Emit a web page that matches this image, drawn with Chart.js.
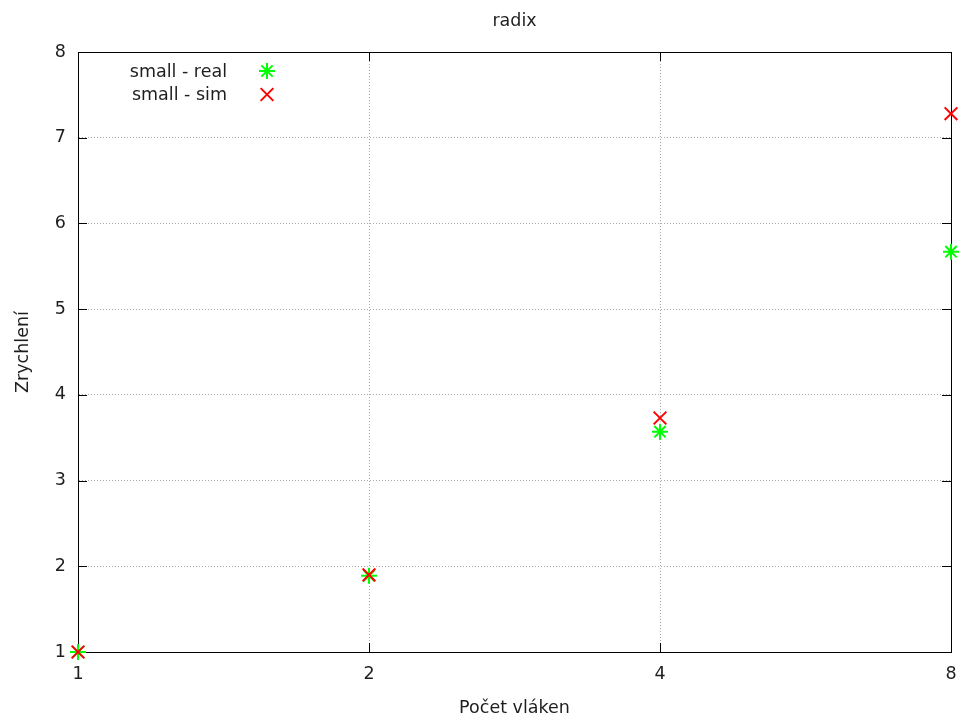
<!DOCTYPE html>
<html><head><meta charset="utf-8">
<script src="https://cdn.jsdelivr.net/npm/chart.js@4/dist/chart.umd.min.js"></script>
<style>html,body{margin:0;padding:0;background:#fff}canvas{display:block}</style>
</head><body>
<canvas id="c" width="959" height="722" style="width:959px;height:722px"></canvas>
<script>
// Speedup of the radix benchmark versus thread count
const threads = [1, 2, 4, 8];
const speedupReal = [1, 1.89, 3.57, 5.67];
const speedupSim = [1, 1.90, 3.73, 7.28];
const xTicks = [1, 2, 4, 8];
const yMin = 1, yMax = 8;
const seriesNames = ['small - real', 'small - sim'];
const chartTitle = 'radix';
const xTitle = 'Počet vláken';
const yTitle = 'Zrychlení';

const FONT = '"DejaVu Sans", sans-serif';
const FS = 17.5;
const TXT = '#1e1e1e';
const GREEN = '#00ff00';
const RED = '#ff0000';

const toPoints = (xs, ys) => xs.map((x, i) => ({ x, y: ys[i] }));

// draw a marker with the library's own point renderer
function marker(ctx, style, r, x, y, color) {
  ctx.save();
  ctx.strokeStyle = color;
  ctx.fillStyle = color;
  ctx.lineWidth = 2;
  if (Chart.helpers && Chart.helpers.drawPoint) {
    Chart.helpers.drawPoint(ctx, { pointStyle: style, radius: r, borderWidth: 2, rotation: 0 }, x, y);
  }
  ctx.restore();
}

// plot frame and inward tick marks
const framePlugin = {
  id: 'frame',
  beforeDatasetsDraw(chart) {
    const { ctx, chartArea: a, scales } = chart;
    ctx.save();
    ctx.strokeStyle = '#000';
    ctx.lineWidth = 1;
    ctx.beginPath();
    for (const v of xTicks) {
      const px = Math.round(scales.x.getPixelForValue(v)) + 0.5;
      ctx.moveTo(px, a.bottom); ctx.lineTo(px, a.bottom - 9);
      ctx.moveTo(px, a.top); ctx.lineTo(px, a.top + 9);
    }
    for (let v = yMin; v <= yMax; v++) {
      const py = Math.round(scales.y.getPixelForValue(v)) + 0.5;
      ctx.moveTo(a.left, py); ctx.lineTo(a.left + 9, py);
      ctx.moveTo(a.right, py); ctx.lineTo(a.right - 9, py);
    }
    ctx.stroke();
    ctx.strokeRect(Math.round(a.left) + 0.5, Math.round(a.top) + 0.5,
                   Math.round(a.right - a.left), Math.round(a.bottom - a.top));
    ctx.restore();
  },
  afterDraw(chart) {
    const { ctx, chartArea: a } = chart;
    ctx.save();
    ctx.fillStyle = TXT;
    ctx.font = FS + 'px ' + FONT;
    ctx.textBaseline = 'alphabetic';
    ctx.textAlign = 'center';
    ctx.fillText(chartTitle, (a.left + a.right) / 2, 26);
    ctx.fillText(xTitle, (a.left + a.right) / 2, 713);
    ctx.save();
    ctx.translate(28, (a.top + a.bottom) / 2);
    ctx.rotate(-Math.PI / 2);
    ctx.fillText(yTitle, 0, 0);
    ctx.restore();
    // key
    ctx.textAlign = 'right';
    ctx.textBaseline = 'middle';
    const ds = chart.data.datasets;
    const keyOrder = [1, 0];
    keyOrder.forEach((di, row) => {
      const d = ds[di];
      const y = 71 + row * 23.5;
      ctx.fillStyle = TXT;
      ctx.fillText(d.label, 227, y + 1);
      marker(ctx, d.pointStyle, d.pointRadius, 267, y, d.borderColor);
    });
    ctx.restore();
  }
};

new Chart(document.getElementById('c'), {
  type: 'scatter',
  data: {
    datasets: [
      {
        label: seriesNames[1],
        data: toPoints(threads, speedupSim),
        pointStyle: 'crossRot',
        pointRadius: 9,
        pointHoverRadius: 9,
        borderColor: RED,
        backgroundColor: RED,
        pointBorderWidth: 2,
        clip: false,
        order: 0
      },
      {
        label: seriesNames[0],
        data: toPoints(threads, speedupReal),
        pointStyle: 'star',
        pointRadius: 8,
        pointHoverRadius: 8,
        borderColor: GREEN,
        backgroundColor: GREEN,
        pointBorderWidth: 2,
        clip: false,
        order: 1
      }
    ]
  },
  options: {
    responsive: false,
    animation: false,
    events: [],
    layout: { autoPadding: false, padding: { top: 52, right: 8, left: 0, bottom: 0 } },
    plugins: { legend: { display: false }, title: { display: false }, tooltip: { enabled: false } },
    scales: {
      x: {
        type: 'logarithmic',
        min: 1, max: 8,
        afterBuildTicks: s => { s.ticks = xTicks.map(v => ({ value: v })); },
        afterFit: s => { s.height = 70; s.paddingLeft = 0; s.paddingRight = 0; },
        ticks: {
          callback: v => String(v),
          font: { family: FONT, size: FS },
          color: TXT,
          padding: 12,
          maxRotation: 0,
          autoSkip: false
        },
        grid: { color: '#a8a8a8', lineWidth: 1, drawTicks: false },
        border: { display: true, color: '#000', dash: [1, 2], width: 1 }
      },
      y: {
        type: 'linear',
        min: yMin, max: yMax,
        afterFit: s => { s.width = 78; s.paddingTop = 0; s.paddingBottom = 0; },
        ticks: {
          stepSize: 1,
          font: { family: FONT, size: FS },
          color: TXT,
          padding: 12
        },
        grid: { color: '#a8a8a8', lineWidth: 1, drawTicks: false },
        border: { display: true, color: '#000', dash: [1, 2], width: 1 }
      }
    }
  },
  plugins: [framePlugin]
});
</script>
</body></html>
